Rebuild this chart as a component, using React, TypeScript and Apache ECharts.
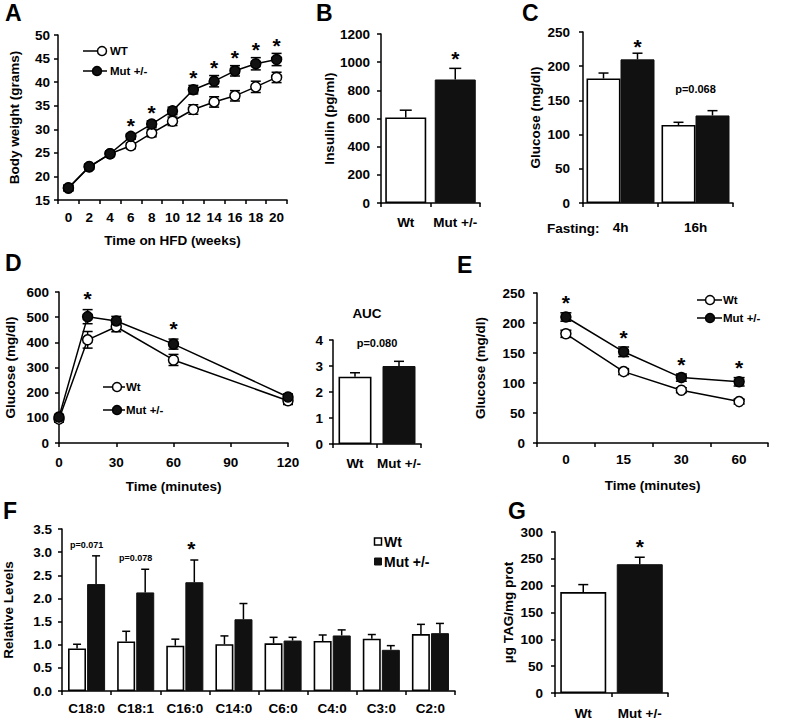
import React, { useEffect, useRef } from 'react';
import * as echarts from 'echarts';

const FONT = "'Liberation Sans', Arial, Helvetica, sans-serif";

// ---------- Panel A: body weight on HFD ----------
const weeksA = ['0', '2', '4', '6', '8', '10', '12', '14', '16', '18', '20'];
const wtA = [17.5, 22.0, 24.8, 26.5, 29.2, 31.7, 34.2, 35.8, 37.1, 39.0, 41.0];
const wtAErr = [0.6, 0.5, 0.5, 0.6, 0.8, 0.9, 1.0, 1.1, 1.1, 1.2, 1.1];
const mutA = [17.6, 22.1, 24.8, 28.5, 31.1, 33.9, 38.4, 40.2, 42.4, 43.9, 44.8];
const mutAErr = [0.6, 0.5, 0.5, 0.6, 0.7, 0.8, 0.9, 1.2, 1.1, 1.3, 1.3];
const starsA = ['', '', '', '*', '*', '', '*', '*', '*', '*', '*'];

// ---------- Panel B: insulin ----------
const groupsB = ['Wt', 'Mut +/-'];
const insulinB = [607, 877];
const insulinBErr = [52, 79];
const starsB = ['', '*'];

// ---------- Panel C: fasting glucose ----------
const fastingC = ['4h', '16h'];
const wtC = [182, 114];
const wtCErr = [8, 4];
const mutC = [210, 128];
const mutCErr = [9, 7];
const annotC = ['*', 'p=0.068'];

// ---------- Panel D: GTT ----------
const timesD = [0, 15, 30, 60, 120];
const wtD = [95, 410, 462, 330, 168];
const wtDErr = [12, 33, 20, 22, 15];
const mutD = [103, 502, 485, 393, 183];
const mutDErr = [10, 28, 18, 20, 12];
const starsD = ['', '*', '', '*', ''];

// ---------- Panel D (AUC) ----------
const aucGroups = ['Wt', 'Mut +/-'];
const aucVals = [2.59, 3.0];
const aucErr = [0.15, 0.18];
const aucAnnot = ['', 'p=0.080'];

// ---------- Panel E: ITT ----------
const timesE = ['0', '15', '30', '60'];
const wtE = [182, 119, 88, 69];
const wtEErr = [6, 5, 4, 4];
const mutE = [210, 152, 109, 102];
const mutEErr = [7, 8, 6, 7];
const starsE = ['*', '*', '*', '*'];

// ---------- Panel F: acylcarnitines ----------
const acylF = ['C18:0', 'C18:1', 'C16:0', 'C14:0', 'C6:0', 'C4:0', 'C3:0', 'C2:0'];
const wtF = [0.92, 1.07, 0.98, 1.01, 1.03, 1.08, 1.13, 1.23];
const wtFErr = [0.09, 0.22, 0.14, 0.18, 0.13, 0.13, 0.09, 0.21];
const mutF = [2.31, 2.13, 2.35, 1.55, 1.09, 1.2, 0.89, 1.25];
const mutFErr = [0.61, 0.5, 0.48, 0.34, 0.07, 0.12, 0.09, 0.21];
const annotF = ['p=0.071', 'p=0.078', '*', '', '', '', '', ''];

// ---------- Panel G: liver TAG ----------
const groupsG = ['Wt', 'Mut +/-'];
const tagG = [188, 240];
const tagGErr = [14, 13];
const starsG = ['', '*'];

const INK = '#000';
const DARK = '#111';
const TICK_SIZE = 13.5;
const NAME_SIZE = 13.5;
const axisLine = { color: INK, width: 1.5 };
const WHITE_BAR = { color: '#fff', borderColor: INK, borderWidth: 1.6 };
const BLACK_BAR = { color: DARK, borderColor: DARK, borderWidth: 1 };

function nameStyle(size = NAME_SIZE) {
  return { color: INK, fontWeight: 'bold', fontSize: size, fontFamily: FONT };
}

function xCat(gi: number, data: string[], margin: number, extra: any = {}) {
  return {
    type: 'category', gridIndex: gi, data,
    axisLine: { show: true, onZero: false, lineStyle: axisLine },
    axisTick: { show: true, length: 4, interval: 0, lineStyle: axisLine },
    axisLabel: { interval: 0, margin, color: INK, fontWeight: 'bold', fontSize: TICK_SIZE, fontFamily: FONT },
    splitLine: { show: false },
    ...extra,
  };
}

function yVal(gi: number, min: number, max: number, interval: number, name: string, nameGap: number, margin: number, fmt?: any) {
  return {
    type: 'value', gridIndex: gi, min, max, interval,
    name, nameLocation: 'middle', nameRotate: 90, nameGap, nameTextStyle: nameStyle(),
    axisLine: { show: true, onZero: false, lineStyle: axisLine },
    axisTick: { show: true, length: 4, lineStyle: axisLine },
    axisLabel: {
      margin, color: INK, fontWeight: 'bold', fontSize: TICK_SIZE, fontFamily: FONT,
      formatter: fmt || ((v: number) => String(v)),
    },
    splitLine: { show: false },
  };
}

function errSeries(gi: number, xs: number[], vals: number[], errs: number[], opts: { offset?: number; both?: boolean; cap?: number }) {
  const offset = opts.offset || 0;
  const hw = opts.cap ?? 4;
  return {
    type: 'custom', xAxisIndex: gi, yAxisIndex: gi, z: 2, silent: true,
    data: xs.map((x, i) => [x, vals[i], errs[i]]),
    renderItem: (params: any, api: any) => {
      const x = api.value(0), v = api.value(1), e = api.value(2);
      const c = api.coord([x, v]);
      const t = api.coord([x, v + e]);
      const b = api.coord([x, v - e]);
      const cx = c[0] + offset;
      const style = { stroke: INK, lineWidth: 1.5, fill: null };
      const children: any[] = [
        { type: 'line', shape: { x1: cx, y1: opts.both ? b[1] : c[1], x2: cx, y2: t[1] }, style },
        { type: 'line', shape: { x1: cx - hw, y1: t[1], x2: cx + hw, y2: t[1] }, style },
      ];
      if (opts.both) children.push({ type: 'line', shape: { x1: cx - hw, y1: b[1], x2: cx + hw, y2: b[1] }, style });
      return { type: 'group', children };
    },
  };
}

function annotSeries(gi: number, xs: number[], tops: number[], labels: string[], o: { starDx?: number; starDy: number; textDx?: number; textDy?: number; textSize?: number; starSize?: number }) {
  return {
    type: 'custom', xAxisIndex: gi, yAxisIndex: gi, z: 4, silent: true,
    data: xs.map((x, i) => [x, tops[i]]),
    renderItem: (params: any, api: any) => {
      const label = labels[params.dataIndex];
      if (!label) return { type: 'group', children: [] };
      const p = api.coord([api.value(0), api.value(1)]);
      const star = label === '*';
      const dx = star ? (o.starDx || 0) : (o.textDx || 0);
      const dy = star ? o.starDy : (o.textDy ?? 12);
      const size = star ? (o.starSize ?? 21) : (o.textSize ?? 11);
      return {
        type: 'text', x: p[0] + dx, y: p[1] - dy,
        style: {
          text: label, fill: INK, font: `bold ${size}px ${FONT}`,
          textAlign: 'center', textVerticalAlign: 'middle', align: 'center', verticalAlign: 'middle',
        },
      };
    },
  };
}

function lineSeries(gi: number, name: string, data: any[], filled: boolean) {
  return {
    type: 'line', name, xAxisIndex: gi, yAxisIndex: gi, data, z: 3,
    symbol: 'circle', symbolSize: 10,
    lineStyle: { color: INK, width: 1.5 },
    itemStyle: { color: filled ? DARK : '#fff', borderColor: INK, borderWidth: 1.5 },
  };
}

function pairBars(gi: number, vals: number[], barWidth: number) {
  return {
    type: 'bar', xAxisIndex: gi, yAxisIndex: gi, barWidth, z: 1,
    data: vals.map((v, i) => ({ value: v, itemStyle: i === 0 ? WHITE_BAR : BLACK_BAR })),
  };
}

const idx = (arr: any[]) => arr.map((_, i) => i);
const add = (a: number[], b: number[]) => a.map((v, i) => v + b[i]);

function letter(t: string, x: number, y: number) {
  return {
    type: 'text', x, y,
    style: { text: t, fill: INK, font: `bold 23px ${FONT}`, textAlign: 'left', textVerticalAlign: 'middle', align: 'left', verticalAlign: 'middle' },
  };
}
function label(t: string, x: number, y: number, size: number, alignH = 'left') {
  return {
    type: 'text', x, y,
    style: { text: t, fill: INK, font: `bold ${size}px ${FONT}`, textAlign: alignH, textVerticalAlign: 'middle', align: alignH, verticalAlign: 'middle' },
  };
}
function lineLegend(x1: number, x2: number, cx: number, y: number, filled: boolean, text: string, tx: number) {
  return [
    { type: 'line', shape: { x1, y1: y, x2, y2: y }, style: { stroke: INK, lineWidth: 1.5 } },
    { type: 'circle', shape: { cx, cy: y, r: 4.5 }, style: { fill: filled ? DARK : '#fff', stroke: INK, lineWidth: 1.5 } },
    label(text, tx, y, 11.5),
  ];
}

export default function App() {
  const ref = useRef<HTMLDivElement>(null);
  useEffect(() => {
    if (!ref.current) return;
    const chart = echarts.init(ref.current, undefined, { renderer: 'svg' });
    const grids = [
      { left: 58, top: 35, width: 229, height: 165 },
      { left: 381, top: 34, width: 99, height: 169 },
      { left: 583, top: 32, width: 150, height: 171 },
      { left: 59, top: 292, width: 229, height: 151 },
      { left: 333, top: 340, width: 88, height: 104 },
      { left: 537, top: 293, width: 231, height: 150 },
      { left: 62, top: 529, width: 393, height: 162 },
      { left: 555, top: 532, width: 113, height: 161 },
    ];
    const xAxes = [
      xCat(0, weeksA, 10, { name: 'Time on HFD (weeks)', nameLocation: 'middle', nameGap: 33, nameTextStyle: nameStyle() }),
      xCat(1, groupsB, 12),
      xCat(2, fastingC, 17),
      {
        type: 'value', gridIndex: 3, min: 0, max: 120, interval: 30,
        name: 'Time (minutes)', nameLocation: 'middle', nameGap: 36, nameTextStyle: nameStyle(),
        axisLine: { show: true, onZero: false, lineStyle: axisLine },
        axisTick: { show: true, length: 4, lineStyle: axisLine },
        axisLabel: { margin: 12, color: INK, fontWeight: 'bold', fontSize: TICK_SIZE, fontFamily: FONT },
        splitLine: { show: false },
      },
      xCat(4, aucGroups, 12),
      xCat(5, timesE, 9, { name: 'Time (minutes)', nameLocation: 'middle', nameGap: 35, nameTextStyle: nameStyle() }),
      xCat(6, acylF, 10),
      xCat(7, groupsG, 13),
    ];
    const yAxes = [
      yVal(0, 15, 50, 5, 'Body weight (grams)', 37, 8),
      yVal(1, 0, 1200, 200, 'Insulin (pg/ml)', 45, 11),
      yVal(2, 0, 250, 50, 'Glucose (mg/dl)', 41, 13),
      yVal(3, 0, 600, 100, 'Glucose (mg/dl)', 42, 10),
      yVal(4, 0, 4, 1, '', 0, 10),
      yVal(5, 0, 250, 50, 'Glucose (mg/dl)', 50, 12),
      yVal(6, 0, 3.5, 0.5, 'Relative Levels', 47, 10, (v: number) => v.toFixed(1)),
      yVal(7, 0, 300, 50, 'µg TAG/mg prot', 40, 12),
    ];

    const series: any[] = [
      // A
      lineSeries(0, 'WT', wtA, false),
      lineSeries(0, 'Mut +/-', mutA, true),
      errSeries(0, idx(weeksA), wtA, wtAErr, { both: true, cap: 5 }),
      errSeries(0, idx(weeksA), mutA, mutAErr, { both: true, cap: 5 }),
      annotSeries(0, idx(weeksA), add(mutA, mutAErr), starsA, { starDy: 8 }),
      // B
      pairBars(1, insulinB, 41),
      errSeries(1, idx(groupsB), insulinB, insulinBErr, { cap: 6 }),
      annotSeries(1, idx(groupsB), add(insulinB, insulinBErr), starsB, { starDy: 10 }),
      // C
      { type: 'bar', name: 'Wt', xAxisIndex: 2, yAxisIndex: 2, barWidth: 34, barGap: '0%', data: wtC, itemStyle: WHITE_BAR, z: 1 },
      { type: 'bar', name: 'Mut +/-', xAxisIndex: 2, yAxisIndex: 2, barWidth: 34, barGap: '0%', data: mutC, itemStyle: BLACK_BAR, z: 1 },
      errSeries(2, idx(fastingC), wtC, wtCErr, { offset: -17, cap: 5 }),
      errSeries(2, idx(fastingC), mutC, mutCErr, { offset: 17, cap: 5 }),
      annotSeries(2, idx(fastingC), add(mutC, mutCErr), annotC, { starDx: 17, starDy: 7, textDx: 0, textDy: 22, textSize: 11 }),
      // D
      lineSeries(3, 'Wt', timesD.map((t, i) => [t, wtD[i]]), false),
      lineSeries(3, 'Mut +/-', timesD.map((t, i) => [t, mutD[i]]), true),
      errSeries(3, timesD, wtD, wtDErr, { both: true, cap: 5 }),
      errSeries(3, timesD, mutD, mutDErr, { both: true, cap: 5 }),
      annotSeries(3, timesD, add(mutD, mutDErr), starsD, { starDy: 11 }),
      // AUC
      pairBars(4, aucVals, 33),
      errSeries(4, idx(aucGroups), aucVals, aucErr, { cap: 5 }),
      annotSeries(4, idx(aucGroups), add(aucVals, aucErr), aucAnnot, { starDy: 10, textDx: -22, textDy: 18, textSize: 11 }),
      // E
      lineSeries(5, 'Wt', wtE, false),
      lineSeries(5, 'Mut +/-', mutE, true),
      errSeries(5, idx(timesE), wtE, wtEErr, { both: true, cap: 5.5 }),
      errSeries(5, idx(timesE), mutE, mutEErr, { both: true, cap: 5.5 }),
      annotSeries(5, idx(timesE), add(mutE, mutEErr), starsE, { starDy: 10 }),
      // F
      { type: 'bar', name: 'Wt', xAxisIndex: 6, yAxisIndex: 6, barWidth: 18, barGap: '6%', data: wtF, itemStyle: WHITE_BAR, z: 1 },
      { type: 'bar', name: 'Mut +/-', xAxisIndex: 6, yAxisIndex: 6, barWidth: 18, barGap: '6%', data: mutF, itemStyle: BLACK_BAR, z: 1 },
      errSeries(6, idx(acylF), wtF, wtFErr, { offset: -9.5, cap: 4 }),
      errSeries(6, idx(acylF), mutF, mutFErr, { offset: 9.5, cap: 4 }),
      annotSeries(6, idx(acylF), add(mutF, mutFErr), annotF, { starDx: 6.5, starDy: 12, textDx: 0, textDy: 11, textSize: 9 }),
      // G
      pairBars(7, tagG, 46),
      errSeries(7, idx(groupsG), tagG, tagGErr, { cap: 5 }),
      annotSeries(7, idx(groupsG), add(tagG, tagGErr), starsG, { starDy: 11 }),
    ];

    const graphic: any[] = [
      letter('A', 5, 13),
      letter('B', 316, 13),
      letter('C', 522, 13),
      letter('D', 5, 263),
      letter('E', 457, 265),
      letter('F', 3, 511),
      letter('G', 508, 511),
      ...lineLegend(83, 107, 102, 51, false, 'WT', 110),
      ...lineLegend(83, 107, 97, 71, true, 'Mut +/-', 110),
      ...lineLegend(103, 125, 117, 387, false, 'Wt', 126),
      ...lineLegend(103, 125, 117, 410, true, 'Mut +/-', 126),
      ...lineLegend(697, 722, 710, 300, false, 'Wt', 723),
      ...lineLegend(697, 722, 710, 318, true, 'Mut +/-', 723),
      { type: 'rect', shape: { x: 374.5, y: 538, width: 7, height: 7 }, style: { fill: '#fff', stroke: INK, lineWidth: 1.5 } },
      { type: 'rect', shape: { x: 374.5, y: 558, width: 7, height: 7 }, style: { fill: DARK, stroke: DARK, lineWidth: 1 } },
      label('Wt', 384, 542, 14),
      label('Mut +/-', 384, 562, 14),
      label('AUC', 367, 313, 13.5, 'center'),
      label('Fasting:', 547, 228, 13.5),
    ];

    chart.setOption({
      animation: false,
      backgroundColor: '#fff',
      textStyle: { fontFamily: FONT },
      grid: grids,
      xAxis: xAxes,
      yAxis: yAxes,
      series,
      graphic,
    });
    return () => chart.dispose();
  }, []);
  return <div ref={ref} style={{ position: 'absolute', left: 0, top: 0, width: 787, height: 727 }} />;
}
